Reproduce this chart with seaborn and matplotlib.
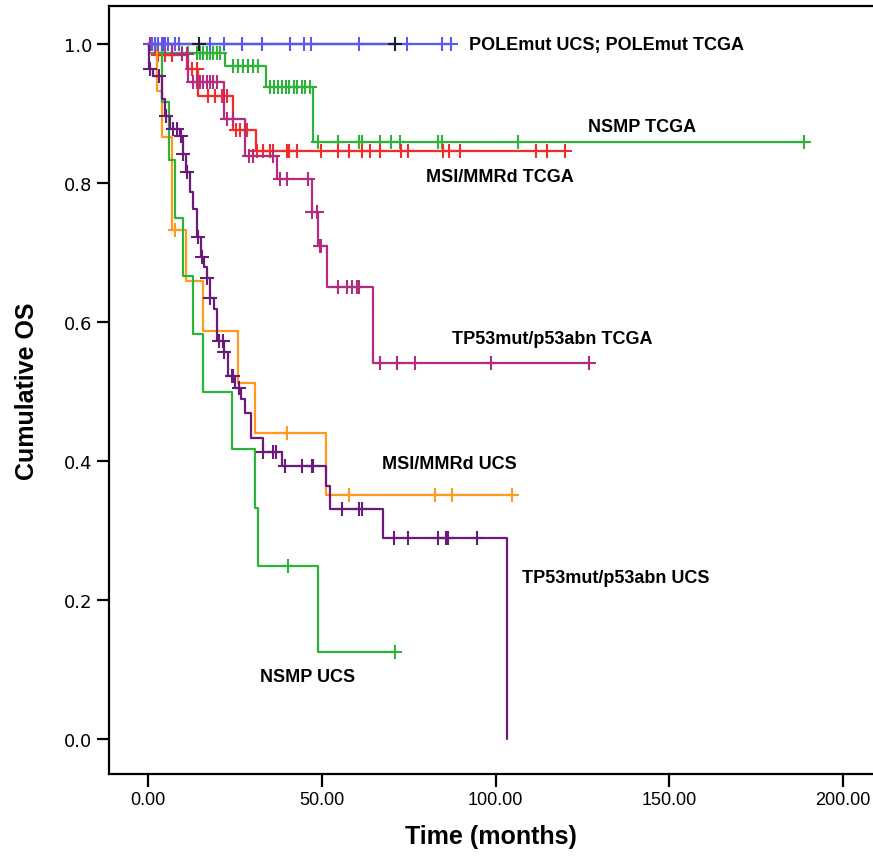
import numpy as np
import pandas as pd
import matplotlib
matplotlib.use("Agg")
import matplotlib.pyplot as plt
import seaborn as sns

# Kaplan-Meier steps (time in months, survival after the step); last entry = end of follow-up
pole_ucs_t = [0, 87.2]
pole_ucs_s = [1.0, 1.0]
pole_ucs_cens = [1.1, 2.0, 2.9, 4.0, 4.9, 5.7, 7.7, 8.9, 17.8, 21.8, 27.0, 32.7, 41.0,
                 44.8, 46.8, 60.8, 74.6, 84.6, 87.2]

pole_tcga_t = [0, 71.2]
pole_tcga_s = [1.0, 1.0]
pole_tcga_cens = [14.6, 71.2]

nsmp_tcga_t = [0, 0.3, 22.1, 33.9, 47.6, 188.8]
nsmp_tcga_s = [1.0, 0.988, 0.969, 0.938, 0.859, 0.859]
nsmp_tcga_cens = [4.0, 9.8, 11.5, 14.1, 14.9, 15.8, 16.9, 17.8, 18.7, 19.8, 20.7,
                  24.4, 25.8, 27.3, 28.7, 30.1, 31.6,
                  35.0, 36.2, 37.3, 38.5, 39.6, 40.7, 41.9, 43.0, 44.2, 45.3, 46.5,
                  48.8, 54.8, 60.8, 61.7, 66.9, 70.0, 72.6, 83.5, 84.6, 106.5, 188.8]

msi_tcga_t = [0, 2.0, 11.2, 14.3, 24.4, 31.0, 119.9]
msi_tcga_s = [1.0, 0.984, 0.964, 0.925, 0.876, 0.846, 0.846]
msi_tcga_cens = [2.9, 4.9, 6.9, 12.6, 14.1, 17.2, 19.2, 21.2, 22.7, 25.3, 26.4, 28.4,
                 31.3, 33.0, 35.0, 35.9, 39.9, 40.7, 42.8, 49.9, 54.8, 57.7, 61.7, 64.0,
                 66.9, 72.9, 74.9, 84.9, 86.7, 89.8, 111.6, 114.8, 119.9]

p53_tcga_t = [0, 7.0, 11.5, 21.8, 27.8, 37.0, 47.1, 48.8, 51.6, 64.8, 126.8]
p53_tcga_s = [1.0, 0.986, 0.946, 0.892, 0.839, 0.806, 0.758, 0.709, 0.650, 0.541, 0.541]
p53_tcga_cens = [0.6, 2.0, 4.3, 5.7, 9.8, 11.2, 12.9, 14.1, 14.9, 15.8, 16.9, 17.8, 18.7,
                 19.8, 22.7, 24.4, 29.0, 30.1, 35.9, 37.9, 39.9, 45.9, 47.3, 48.5, 49.4,
                 49.9, 54.8, 57.4, 58.8, 60.0, 60.8, 66.9, 71.7, 76.9, 98.7, 126.8]

msi_ucs_t = [0, 2.6, 4.0, 6.9, 10.9, 15.8, 25.8, 30.7, 51.1, 104.7]
msi_ucs_s = [1.0, 0.933, 0.867, 0.733, 0.660, 0.587, 0.513, 0.440, 0.352, 0.352]
msi_ucs_cens = [7.7, 39.9, 57.7, 82.6, 87.5, 104.7]

nsmp_ucs_t = [0, 4.0, 6.0, 7.7, 10.0, 12.9, 15.8, 24.1, 30.7, 31.6, 49.0, 71.0]
nsmp_ucs_s = [1.0, 0.917, 0.833, 0.750, 0.667, 0.583, 0.500, 0.417, 0.333, 0.250, 0.125, 0.125]
nsmp_ucs_cens = [40.2, 71.0]

p53_ucs_t = [0, 0.3, 1.4, 4.0, 4.9, 6.3, 9.2, 10.0, 10.9, 12.1, 12.9, 14.1, 15.2, 16.1,
             16.9, 17.8, 19.0, 19.8, 21.8, 22.9, 25.0, 26.9, 27.8, 29.6, 33.0, 38.7,
             51.1, 52.5, 67.7, 103.3]
p53_ucs_s = [1.0, 0.964, 0.954, 0.921, 0.896, 0.878, 0.868, 0.842, 0.816, 0.788, 0.763,
             0.722, 0.694, 0.680, 0.664, 0.635, 0.619, 0.573, 0.557, 0.523, 0.506, 0.489,
             0.470, 0.434, 0.414, 0.393, 0.364, 0.332, 0.290, 0.0]
p53_ucs_cens = [0.6, 3.2, 5.2, 7.2, 8.3, 9.5, 10.2, 11.2, 14.3, 15.5, 17.0, 17.9, 20.4,
                21.5, 22.0, 24.1, 24.6, 26.1, 33.0, 35.9, 36.7, 39.3, 44.2, 47.1, 47.6,
                55.9, 60.8, 61.7, 70.9, 74.9, 83.5, 85.8, 86.4, 94.7]

curves = [
    ("NSMP TCGA", nsmp_tcga_t, nsmp_tcga_s, nsmp_tcga_cens, "#2DB33A"),
    ("MSI/MMRd TCGA", msi_tcga_t, msi_tcga_s, msi_tcga_cens, "#F52A2A"),
    ("TP53mut/p53abn TCGA", p53_tcga_t, p53_tcga_s, p53_tcga_cens, "#B42C80"),
    ("MSI/MMRd UCS", msi_ucs_t, msi_ucs_s, msi_ucs_cens, "#FF9A1F"),
    ("NSMP UCS", nsmp_ucs_t, nsmp_ucs_s, nsmp_ucs_cens, "#2DB33A"),
    ("TP53mut/p53abn UCS", p53_ucs_t, p53_ucs_s, p53_ucs_cens, "#6A1B7A"),
    ("POLEmut TCGA", pole_tcga_t, pole_tcga_s, pole_tcga_cens, "#1C1C3C"),
    ("POLEmut UCS", pole_ucs_t, pole_ucs_s, pole_ucs_cens, "#5A5AF0"),
]

labels = ["POLEmut UCS; POLEmut TCGA", "NSMP TCGA", "MSI/MMRd TCGA", "TP53mut/p53abn TCGA",
          "MSI/MMRd UCS", "TP53mut/p53abn UCS", "NSMP UCS"]
label_x = [92.4, 126.5, 80.1, 87.6, 67.4, 107.6, 32.1]
label_y = [0.999, 0.881, 0.809, 0.576, 0.397, 0.233, 0.091]

sns.set_theme(style="white")
plt.rcParams["font.family"] = ["Liberation Sans", "DejaVu Sans"]
plt.rcParams.update({"text.color": "black", "axes.labelcolor": "black",
                     "xtick.color": "black", "ytick.color": "black"})

fig = plt.figure(figsize=(8.73, 8.62), dpi=100)
ax = fig.add_axes([0.1249, 0.1009, 0.8751, 0.891])

for i, (name, t, s, cens, col) in enumerate(curves):
    df = pd.DataFrame({"time": t, "surv": s})
    sns.lineplot(data=df, x="time", y="surv", ax=ax, color=col, linewidth=1.6,
                 drawstyle="steps-post", sort=False, estimator=None, zorder=2 + i)
    idx = np.searchsorted(np.array(t), np.array(cens), side="right") - 1
    cdf = pd.DataFrame({"time": cens, "surv": np.array(s)[idx]})
    sns.scatterplot(data=cdf, x="time", y="surv", ax=ax, marker="+", s=110,
                    color=col, linewidth=1.5, zorder=20 if name == "POLEmut TCGA" else 3 + i)

for txt, x, y in zip(labels, label_x, label_y):
    ax.text(x, y, txt, fontsize=13, fontweight="bold", color="black",
            ha="left", va="center", zorder=30)

ax.set_xlim(-11.2, 208.6)
ax.set_ylim(-0.05, 1.055)
ax.set_xticks([0, 50, 100, 150, 200])
ax.set_xticklabels([f"{v:.2f}" for v in [0, 50, 100, 150, 200]], fontsize=13)
ax.set_yticks([0.0, 0.2, 0.4, 0.6, 0.8, 1.0])
ax.set_yticklabels([f"{v:.1f}" for v in [0.0, 0.2, 0.4, 0.6, 0.8, 1.0]],
                   fontsize=13, family="DejaVu Sans")
ax.tick_params(axis="both", direction="out", length=9, width=1.6, color="black",
               labelcolor="black", bottom=True, left=True, pad=3)
ax.set_xlabel("Time (months)", fontsize=18, fontweight="bold", labelpad=12, color="black")
ax.set_ylabel("Cumulative OS", fontsize=18, fontweight="bold", labelpad=18, color="black")
for side in ["left", "bottom", "top"]:
    ax.spines[side].set_color("black")
    ax.spines[side].set_linewidth(1.6)
ax.spines["right"].set_visible(False)

fig.savefig("out.png", dpi=100)
